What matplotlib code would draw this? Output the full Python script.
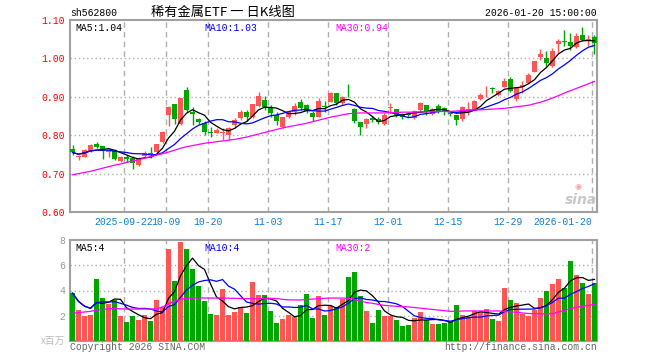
import numpy as np
import matplotlib
matplotlib.use('Agg')
import matplotlib.pyplot as plt
import pandas as pd

# 日K数据, 读自原图 (2025-09-09 .. 2026-01-20)
open_ = [0.764, 0.742, 0.744, 0.759, 0.776, 0.771, 0.755, 0.761, 0.733, 0.744,
         0.741, 0.722, 0.746, 0.754, 0.755, 0.782, 0.853, 0.881, 0.829, 0.918,
         0.861, 0.842, 0.831, 0.808, 0.807, 0.806, 0.801, 0.827, 0.844, 0.861,
         0.848, 0.877, 0.892, 0.874, 0.853, 0.822, 0.848, 0.861, 0.886, 0.879,
         0.857, 0.848, 0.877, 0.887, 0.909, 0.883, 0.903, 0.867, 0.834, 0.829,
         0.844, 0.842, 0.829, 0.872, 0.867, 0.854, 0.854, 0.844, 0.866, 0.879,
         0.855, 0.876, 0.870, 0.857, 0.853, 0.841, 0.864, 0.864, 0.893, 0.914,
         0.924, 0.905, 0.926, 0.946, 0.893, 0.926, 0.937, 0.965, 1.003, 1.000,
         0.980, 1.038, 1.046, 1.042, 1.029, 1.061, 1.046, 1.057]
high = [0.774, 0.748, 0.763, 0.776, 0.782, 0.773, 0.763, 0.763, 0.746, 0.748,
        0.746, 0.744, 0.760, 0.770, 0.778, 0.810, 0.877, 0.881, 0.897, 0.925,
        0.873, 0.846, 0.837, 0.822, 0.818, 0.818, 0.822, 0.844, 0.866, 0.866,
        0.882, 0.912, 0.902, 0.879, 0.861, 0.848, 0.866, 0.883, 0.893, 0.880,
        0.864, 0.896, 0.890, 0.913, 0.911, 0.901, 0.933, 0.870, 0.834, 0.846,
        0.850, 0.848, 0.857, 0.885, 0.867, 0.857, 0.861, 0.866, 0.886, 0.879,
        0.870, 0.881, 0.874, 0.861, 0.853, 0.876, 0.887, 0.891, 0.909, 0.929,
        0.926, 0.919, 0.948, 0.951, 0.926, 0.942, 0.961, 0.993, 1.024, 1.019,
        1.026, 1.050, 1.074, 1.067, 1.067, 1.083, 1.061, 1.061]
low = [0.748, 0.735, 0.742, 0.757, 0.766, 0.739, 0.742, 0.735, 0.731, 0.731,
       0.713, 0.720, 0.742, 0.741, 0.754, 0.780, 0.825, 0.829, 0.826, 0.860,
       0.826, 0.830, 0.801, 0.795, 0.806, 0.788, 0.788, 0.818, 0.840, 0.837,
       0.846, 0.874, 0.866, 0.848, 0.827, 0.818, 0.844, 0.853, 0.866, 0.857,
       0.837, 0.847, 0.860, 0.886, 0.879, 0.879, 0.899, 0.833, 0.801, 0.818,
       0.834, 0.829, 0.827, 0.857, 0.848, 0.842, 0.847, 0.841, 0.864, 0.853,
       0.853, 0.857, 0.853, 0.850, 0.827, 0.838, 0.853, 0.862, 0.892, 0.899,
       0.909, 0.902, 0.925, 0.913, 0.890, 0.911, 0.935, 0.964, 0.996, 0.978,
       0.978, 1.013, 1.031, 1.022, 1.027, 1.046, 1.031, 1.011]
close = [0.755, 0.746, 0.761, 0.774, 0.770, 0.760, 0.761, 0.739, 0.744, 0.739,
         0.728, 0.741, 0.754, 0.752, 0.776, 0.808, 0.874, 0.842, 0.897, 0.865,
         0.854, 0.835, 0.809, 0.806, 0.814, 0.808, 0.820, 0.840, 0.861, 0.847,
         0.880, 0.902, 0.874, 0.859, 0.838, 0.847, 0.863, 0.876, 0.870, 0.863,
         0.848, 0.890, 0.874, 0.909, 0.883, 0.899, 0.901, 0.838, 0.822, 0.841,
         0.840, 0.835, 0.853, 0.874, 0.853, 0.848, 0.852, 0.864, 0.883, 0.860,
         0.868, 0.861, 0.861, 0.856, 0.840, 0.874, 0.867, 0.889, 0.905, 0.916,
         0.921, 0.916, 0.941, 0.916, 0.925, 0.931, 0.957, 0.993, 1.011, 0.989,
         1.019, 1.046, 1.044, 1.033, 1.058, 1.048, 1.050, 1.039]
# 成交量 (百万)
vol = [3.79, 2.48, 2.00, 2.08, 4.88, 3.44, 2.96, 3.25, 2.00, 1.52,
       2.00, 1.63, 2.08, 1.60, 3.28, 2.67, 7.28, 4.72, 7.87, 7.28,
       5.68, 4.32, 3.20, 2.16, 2.08, 4.08, 2.08, 2.32, 2.72, 2.24,
       4.64, 3.68, 3.68, 2.40, 1.44, 1.76, 2.08, 1.92, 2.88, 3.76,
       1.84, 3.60, 2.08, 2.80, 2.72, 3.36, 5.04, 5.44, 3.60, 2.40,
       1.44, 2.48, 2.00, 2.00, 1.68, 1.20, 1.28, 1.84, 2.32, 1.68,
       1.36, 1.36, 1.44, 1.52, 2.88, 2.08, 1.92, 2.40, 2.32, 2.56,
       1.76, 1.60, 4.16, 3.28, 3.04, 2.16, 2.00, 2.48, 3.44, 4.00,
       4.48, 4.88, 4.16, 6.32, 5.20, 4.56, 3.76, 4.56]
# MA30 需要更早的数据, 直接读自原图
ma30_px = [0.697, 0.700, 0.703, 0.706, 0.710, 0.714, 0.718, 0.722, 0.725, 0.729,
           0.733, 0.736, 0.740, 0.744, 0.748, 0.752, 0.756, 0.761, 0.766, 0.770,
           0.773, 0.776, 0.779, 0.781, 0.783, 0.785, 0.787, 0.789, 0.792, 0.795,
           0.799, 0.803, 0.807, 0.811, 0.815, 0.819, 0.822, 0.825, 0.828, 0.831,
           0.835, 0.839, 0.843, 0.847, 0.850, 0.853, 0.856, 0.857, 0.858, 0.858,
           0.858, 0.858, 0.858, 0.859, 0.859, 0.860, 0.860, 0.860, 0.861, 0.861,
           0.861, 0.862, 0.862, 0.862, 0.863, 0.864, 0.865, 0.866, 0.866, 0.867,
           0.868, 0.869, 0.870, 0.872, 0.874, 0.876, 0.878, 0.882, 0.886, 0.891,
           0.897, 0.903, 0.910, 0.916, 0.922, 0.928, 0.934, 0.940]
ma30_vol = [2.19, 2.25, 2.30, 2.35, 2.45, 2.50, 2.55, 2.58, 2.55, 2.53,
            2.53, 2.53, 2.53, 2.53, 2.55, 2.70, 2.95, 3.15, 3.30, 3.38,
            3.40, 3.41, 3.41, 3.40, 3.40, 3.40, 3.39, 3.38, 3.37, 3.36,
            3.35, 3.34, 3.38, 3.38, 3.36, 3.30, 3.26, 3.25, 3.25, 3.28,
            3.32, 3.35, 3.38, 3.40, 3.40, 3.40, 3.38, 3.30, 3.15, 3.05,
            2.98, 2.90, 2.82, 2.78, 2.75, 2.72, 2.70, 2.65, 2.60, 2.55,
            2.50, 2.45, 2.40, 2.35, 2.35, 2.38, 2.38, 2.38, 2.38, 2.38,
            2.38, 2.38, 2.35, 2.30, 2.28, 2.22, 2.18, 2.16, 2.15, 2.15,
            2.16, 2.30, 2.42, 2.55, 2.67, 2.75, 2.82, 2.90]

tick_idx = [9, 16, 23, 33, 43, 53, 63, 73, 87]
tick_lab = ['2025-09-22', '10-09', '10-20', '11-03', '11-17', '12-01', '12-15', '12-29', '2026-01-20']
px_labels = ['MA5:1.04', 'MA10:1.03', 'MA30:0.94']
vol_labels = ['MA5:4', 'MA10:4', 'MA30:2']

RED = '#ff5555'
GREEN = '#00a600'
MONO = 'Liberation Mono'
ma_cols = ['black', '#0000ff', '#ff00ff']

df = pd.DataFrame({'o': open_, 'h': high, 'l': low, 'c': close, 'v': vol})
x = np.arange(len(df))
up = df['c'] >= df['o']
cols = np.where(up, RED, GREEN)
ma5 = df['c'].rolling(5, min_periods=1).mean()
ma10 = df['c'].rolling(10, min_periods=1).mean()
vma5 = df['v'].rolling(5, min_periods=1).mean()
vma10 = df['v'].rolling(10, min_periods=1).mean()

fig = plt.figure(figsize=(6.6, 3.6), dpi=100)
ax = fig.add_axes([70/660, 1-212/360, 527/660, 192/360])
axv = fig.add_axes([70/660, 1-341/360, 527/660, 101/360])

xl = (-0.42, len(df) - 1 + 0.42)

# K线
ax.vlines(x, df['l'], df['h'], colors=cols, lw=1, zorder=3)
body = np.maximum((df['c'] - df['o']).abs(), 0.0015)
ax.bar(x, body, bottom=np.minimum(df['o'], df['c']), width=0.8, color=cols, lw=0, zorder=4)
ax.plot(x, ma5, color=ma_cols[0], lw=0.9, zorder=5)
ax.plot(x, ma10, color=ma_cols[1], lw=0.9, zorder=5)
ax.plot(x, ma30_px, color=ma_cols[2], lw=0.9, zorder=5)

# 成交量
axv.bar(x, df['v'], width=0.8, color=cols, lw=0, zorder=3)
axv.plot(x, vma5, color=ma_cols[0], lw=0.9, zorder=4)
axv.plot(x, vma10, color=ma_cols[1], lw=0.9, zorder=4)
axv.plot(x, ma30_vol, color=ma_cols[2], lw=0.9, zorder=4)

grid_x = [i - 0.42 for i in tick_idx]
for a in (ax, axv):
    a.set_xlim(*xl)
    for s in a.spines.values():
        s.set_color('#a0a0a0')
        s.set_linewidth(1.5)
    for gx in grid_x:
        a.axvline(gx, color='#b0b0b0', lw=1, ls=(0, (4, 3)), zorder=1)
    a.tick_params(length=0)

ax.set_ylim(0.60, 1.10)
ax.set_yticks([0.60, 0.70, 0.80, 0.90, 1.00, 1.10])
ax.set_yticklabels(['%.2f' % v for v in [0.60, 0.70, 0.80, 0.90, 1.00, 1.10]],
                   color='red', fontsize=7, family=MONO)
for v in [0.70, 0.80, 0.90, 1.00]:
    ax.axhline(v, color='#b0b0b0', lw=1, ls=(0, (1, 2)), zorder=1)
ax.set_xticks([])
for i, lab in zip(grid_x, tick_lab):
    ha = 'right' if lab == tick_lab[-1] else 'center'
    ax.text(i, 0.586, lab, ha=ha, va='top', color='#0b7fd4', fontsize=7, family=MONO)

axv.set_ylim(0, 8)
axv.set_yticks([2, 4, 6, 8])
axv.set_yticklabels(['2', '4', '6', '8'], color='#999999', fontsize=7, family=MONO)
for v in [2, 4, 6]:
    axv.axhline(v, color='#b0b0b0', lw=1, ls=(0, (1, 2)), zorder=1)
axv.set_xticks([])

# 图例文字
leg_x = [75, 204, 335]
for lx, lab, c in zip(leg_x, px_labels, ma_cols):
    fig.text(lx/660, 1-23/360, lab, color=c, fontsize=7, family=MONO, va='top')
for lx, lab, c in zip(leg_x, vol_labels, ma_cols):
    fig.text(lx/660, 1-243/360, lab, color=c, fontsize=7, family=MONO, va='top')

fig.text(70/660, 1-13/360, 'sh562800', fontsize=7, family=MONO, va='center')
fig.text(223/660, 1-12/360, '稀有金属ETF 一 日K线图', fontsize=9.5, ha='center', va='center',
         family=['Noto Sans CJK SC', 'DejaVu Sans'])
fig.text(597/660, 1-13/360, '2026-01-20 15:00:00', fontsize=7, family=MONO, ha='right', va='center')
fig.text(65/660, 1-341/360, 'x百万', fontsize=7, color='#bbbbbb', ha='right', va='center',
         family=['Noto Sans CJK SC', 'DejaVu Sans'])
fig.text(70/660, 1-347/360, 'Copyright 2026 SINA.COM', fontsize=7, color='#666666', family=MONO, va='center')
fig.text(597/660, 1-347/360, 'http://finance.sina.com.cn', fontsize=7, color='#666666', family=MONO,
         ha='right', va='center')
fig.text(581/660, 1-200/360, 'sina', fontsize=10, color='#c8c8c8', fontweight='bold', style='italic',
         ha='center', va='center')
fig.text(578/660, 1-186/360, '◉', fontsize=6, color='#f4a0a0', ha='center', va='center')

fig.savefig('out.png', dpi=100)
